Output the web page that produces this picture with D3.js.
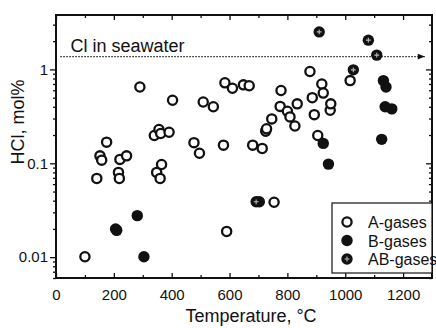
<!DOCTYPE html>
<html>
<head>
<meta charset="utf-8">
<script src="https://cdn.jsdelivr.net/npm/d3@7"></script>
<style>
  body { margin: 0; background: #fff; }
  svg { display: block; font-family: "Liberation Sans", Arial, sans-serif; }
</style>
</head>
<body>
<svg id="chart" width="436" height="328"></svg>
<script>
// A-gases
var aTemp = [100, 141, 152, 158, 175, 216, 219, 221, 244, 290, 340, 348, 356, 360, 362, 365, 391, 403,
  477, 496, 509, 544, 579, 584, 590, 610, 648, 668, 680, 713, 725, 728, 746, 754, 775, 778, 800, 809,
  826, 834, 878, 886, 893, 905, 919, 924, 948, 950, 1017];
var aHcl = [0.0101, 0.069, 0.12, 0.108, 0.168, 0.080, 0.069, 0.11, 0.12, 0.65, 0.198, 0.080, 0.229, 0.069, 0.208, 0.097, 0.214, 0.47,
  0.166, 0.128, 0.45, 0.40, 0.156, 0.72, 0.0188, 0.63, 0.685, 0.67, 0.156, 0.144, 0.22, 0.233, 0.297, 0.0385, 0.404, 0.597, 0.358, 0.312,
  0.25, 0.43, 0.95, 0.50, 0.33, 0.198, 0.70, 0.56, 0.367, 0.43, 0.76];
// B-gases
var bTemp = [206, 210, 281, 304, 703, 924, 942, 1126, 1132, 1141, 1138, 1161];
var bHcl = [0.020, 0.0193, 0.0277, 0.0101, 0.0389, 0.163, 0.098, 0.18, 0.76, 0.65, 0.40, 0.38];
// AB-gases
var abTemp = [692, 910, 1028, 1080, 1109];
var abHcl = [0.0389, 2.51, 0.99, 2.05, 1.42];

var seawaterCl = 1.37;
var xTicks = [0, 200, 400, 600, 800, 1000, 1200];
var yTicks = [0.01, 0.1, 1];
var legendNames = ["A-gases", "B-gases", "AB-gases"];

var svg = d3.select("#chart"),
    margin = {top: 15, right: 4, bottom: 50, left: 56},
    width = 436 - margin.left - margin.right,
    height = 328 - margin.top - margin.bottom;

var x = d3.scaleLinear().domain([0, 1300]).range([0, width]);
var y = d3.scaleLog().domain([0.006, 3.8]).range([height, 0]);

var g = svg.append("g")
    .attr("transform", "translate(" + margin.left + "," + margin.top + ")");

// minor tick values
var yMinor = [];
[0.001, 0.01, 0.1, 1].forEach(function(d) {
  for (var k = 2; k <= 9; k++) {
    var v = d * k;
    if (v >= 0.006 && v <= 3.8) yMinor.push(v);
  }
});
var xMinor = d3.range(100, 1300, 200);

// left axis: outward ticks
g.append("g").call(d3.axisLeft(y).tickValues(yTicks).tickFormat(d3.format("")).tickSize(6).tickPadding(2))
  .call(function(a) { a.select(".domain").remove(); });
g.append("g").call(d3.axisLeft(y).tickValues(yMinor).tickFormat("").tickSize(3))
  .call(function(a) { a.select(".domain").remove(); });

// right axis: inward ticks
g.append("g").attr("transform", "translate(" + width + ",0)")
  .call(d3.axisRight(y).tickValues(yTicks).tickFormat("").tickSize(-6))
  .call(function(a) { a.select(".domain").remove(); });
g.append("g").attr("transform", "translate(" + width + ",0)")
  .call(d3.axisRight(y).tickValues(yMinor).tickFormat("").tickSize(-3))
  .call(function(a) { a.select(".domain").remove(); });

// bottom axis: inward ticks, labels below
g.append("g").attr("transform", "translate(0," + height + ")")
  .call(d3.axisBottom(x).tickValues(xTicks).tickFormat(d3.format("d")).tickSizeInner(-5).tickSizeOuter(0).tickPadding(11))
  .call(function(a) { a.select(".domain").remove(); });
g.append("g").attr("transform", "translate(0," + height + ")")
  .call(d3.axisBottom(x).tickValues(xMinor).tickFormat("").tickSizeInner(-3).tickSizeOuter(0))
  .call(function(a) { a.select(".domain").remove(); });

// top axis: inward ticks
g.append("g")
  .call(d3.axisTop(x).tickValues(xTicks).tickFormat("").tickSizeInner(-5).tickSizeOuter(0))
  .call(function(a) { a.select(".domain").remove(); });
g.append("g")
  .call(d3.axisTop(x).tickValues(xMinor).tickFormat("").tickSizeInner(-3).tickSizeOuter(0))
  .call(function(a) { a.select(".domain").remove(); });

g.selectAll(".tick line").attr("stroke", "#111").attr("stroke-width", 1.3);
g.selectAll(".tick text").attr("font-size", 15).attr("fill", "#111")
  .attr("font-family", "Liberation Sans, Arial, sans-serif");

// frame
g.append("rect").attr("width", width).attr("height", height)
  .attr("fill", "none").attr("stroke", "#111").attr("stroke-width", 2);

// seawater line with arrow
svg.append("defs").append("marker")
    .attr("id", "arrow").attr("viewBox", "0 0 10 10")
    .attr("refX", 10).attr("refY", 5)
    .attr("markerWidth", 7).attr("markerHeight", 5)
    .attr("orient", "auto")
  .append("path").attr("d", "M0,1L10,5L0,9Z").attr("fill", "#111");

g.append("line")
  .attr("x1", x(15)).attr("x2", x(1275))
  .attr("y1", y(seawaterCl)).attr("y2", y(seawaterCl))
  .attr("stroke", "#111").attr("stroke-width", 1.4)
  .attr("stroke-dasharray", "1.4,1.6")
  .attr("marker-end", "url(#arrow)");

g.append("text").attr("x", x(50)).attr("y", y(seawaterCl) - 5)
  .attr("font-size", 18).attr("fill", "#111").text("Cl in seawater");

// symbols
function drawA(sel) {
  sel.append("circle").attr("r", 4.6).attr("fill", "#fff").attr("stroke", "#111").attr("stroke-width", 2.3);
}
function drawB(sel) {
  sel.append("circle").attr("r", 5.7).attr("fill", "#111");
}
function drawAB(sel) {
  sel.append("circle").attr("r", 5.7).attr("fill", "#111");
  sel.append("path").attr("d", "M-2.4,0H2.4M0,-2.4V2.4")
    .attr("stroke", "#bbb").attr("stroke-width", 1.1);
}

var aData = aTemp.map(function(t, i) { return {t: t, v: aHcl[i]}; });
var bData = bTemp.map(function(t, i) { return {t: t, v: bHcl[i]}; });
var abData = abTemp.map(function(t, i) { return {t: t, v: abHcl[i]}; });

function pos(d) { return "translate(" + x(d.t) + "," + y(d.v) + ")"; }

g.selectAll(".ptA").data(aData).enter().append("g").attr("class", "ptA")
  .attr("transform", pos).call(drawA);
g.selectAll(".ptB").data(bData).enter().append("g").attr("class", "ptB")
  .attr("transform", pos).call(drawB);
g.selectAll(".ptAB").data(abData).enter().append("g").attr("class", "ptAB")
  .attr("transform", pos).call(drawAB);

// legend
var lg = svg.append("g").attr("transform", "translate(332,203)");
lg.append("rect").attr("width", 100).attr("height", 70)
  .attr("fill", "#fff").attr("stroke", "#111").attr("stroke-width", 1.2);
var drawers = [drawA, drawB, drawAB];
legendNames.forEach(function(name, i) {
  var row = lg.append("g").attr("transform", "translate(15," + (19 + i * 18.5) + ")");
  row.call(drawers[i]);
  row.append("text").attr("x", 21).attr("y", 6).attr("font-size", 16)
    .attr("fill", "#111").text(name);
});

// axis titles
svg.append("text").attr("x", 251).attr("y", 322).attr("text-anchor", "middle")
  .attr("font-size", 18).attr("fill", "#111").text("Temperature, °C");
svg.append("text").attr("transform", "translate(24,122) rotate(-90)")
  .attr("text-anchor", "middle").attr("font-size", 18).attr("fill", "#111").text("HCl, mol%");
</script>
</body>
</html>
